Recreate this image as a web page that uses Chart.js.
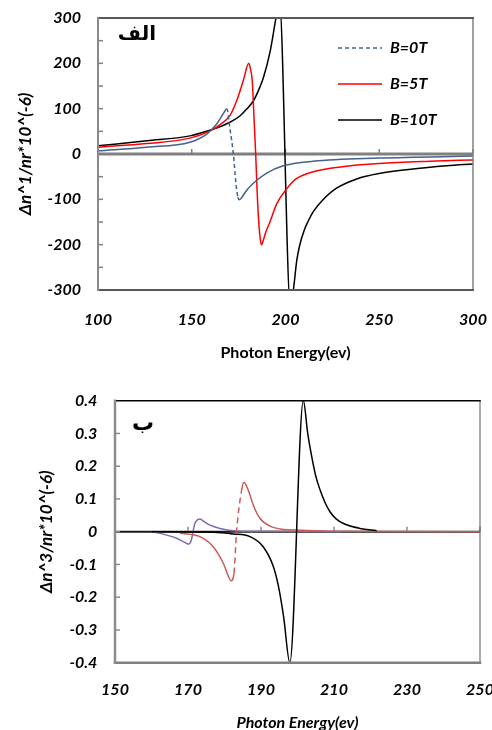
<!DOCTYPE html>
<html>
<head>
<meta charset="utf-8">
<script src="https://cdn.jsdelivr.net/npm/chart.js@4.4.1/dist/chart.umd.min.js"></script>
<style>
  html, body { margin: 0; padding: 0; background: #fff; overflow: hidden; }
  body { width: 492px; height: 730px; position: relative; }
  canvas { position: absolute; left: 0; }
  #top { top: 0; }
  #bottom { top: 370px; }
</style>
</head>
<body>
<canvas id="top" width="492" height="370"></canvas>
<canvas id="bottom" width="492" height="370"></canvas>
<script>
// panel الف : Δn^1 (x = photon energy, eV)
const topE0 = [100, 126, 149, 158, 163.3, 167, 168.7, 170.4, 172.2, 173.6, 174.6, 175.4, 176.5, 179.3, 184.7, 190, 198.8, 214.8, 250, 300];
const topN0 = [7, 15, 26, 44, 66, 90, 100, 55, 0, -66, -95, -101, -97, -80, -58, -42, -26, -16, -9, -4.5];
const topE5 = [100, 126, 149, 159.8, 165.1, 170.4, 174, 177.5, 180.4, 181.3, 182.3, 183.2, 184.1, 185, 185.9, 186.7, 187.3, 188.2, 189.5, 191.7, 195.3, 200.6, 206, 214.8, 232.6, 250, 277, 300];
const topN5 = [15, 23, 35, 51, 65, 85, 118, 162, 200, 188, 160, 80, 0, -95, -160, -192, -200, -190, -172, -150, -110, -77, -54, -39, -27, -21, -16, -13];
const topE10 = [100, 126, 149, 161.6, 170.4, 176, 179.3, 183, 186.4, 188.2, 191.7, 194.4, 195.5, 196.8, 202.6, 204.2, 206, 207.7, 210, 212, 215, 220, 227, 238, 250, 268, 286, 300];
const topN10 = [18, 29, 40, 55, 70, 85, 99, 118, 148, 168, 224, 288, 315, 335, -335, -300, -235, -199, -168, -149, -126, -101, -76, -55, -43, -33, -26, -22];

// panel ب : Δn^3
const botE0 = [160, 162.3, 166.9, 169, 170.1, 170.8, 171.9, 173.3, 174.5, 176, 178.8, 182.4, 190, 212];
const botN0 = [0, -0.005, -0.02, -0.032, -0.038, -0.03, 0.026, 0.039, 0.03, 0.02, 0.01, 0.003, 0.001, 0];
const botE5 = [167.8, 173.3, 176.9, 179.7, 181.1, 181.8, 182.6, 183.3, 184.7, 185.3, 186.5, 187.9, 189.7, 192.5, 196.1, 199.8, 210, 250];
const botN5 = [-0.005, -0.015, -0.046, -0.097, -0.137, -0.15, -0.127, 0, 0.127, 0.151, 0.127, 0.081, 0.041, 0.017, 0.007, 0.005, 0.001, 0];
const botE10 = [160, 177, 182.4, 187, 190.6, 193.4, 194.8, 196.2, 197.9, 201.6, 202.8, 203.9, 205, 206.2, 207.5, 208.9, 210.5, 212.6, 217.1, 221.7];
const botN10 = [0, -0.002, -0.007, -0.015, -0.046, -0.107, -0.168, -0.26, -0.4, 0.4, 0.3, 0.229, 0.17, 0.127, 0.09, 0.061, 0.04, 0.025, 0.01, 0.003];

const seriesNames = ['B=0T', 'B=5T', 'B=10T'];

const TICK_FONT = { family: 'Lato', size: 16, weight: 'bold', style: 'italic' };

function pts(xs, ys) {
  return xs.map((x, i) => ({ x, y: ys[i] }));
}

// Excel restarts the dash on every segment, so only long steep runs look dashed
function steepDash(dash) {
  return (ctx) => {
    const dy = Math.abs(ctx.p1.y - ctx.p0.y);
    const dx = Math.abs(ctx.p1.x - ctx.p0.x);
    return dy > 12 && dy > 3 * dx ? dash : undefined;
  };
}

function series(label, xs, ys, color, extra = {}) {
  return {
    label,
    data: pts(xs, ys),
    borderColor: color,
    backgroundColor: color,
    borderWidth: 1.5,
    pointRadius: 0,
    cubicInterpolationMode: 'monotone',
    fill: false,
    ...extra,
  };
}

function line(ctx, x1, y1, x2, y2) {
  ctx.beginPath();
  ctx.moveTo(x1, y1);
  ctx.lineTo(x2, y2);
  ctx.stroke();
}

const panelDecor = {
  id: 'panelDecor',
  beforeDatasetsDraw(chart, args, opts) {
    const { ctx, chartArea: a, scales: { x, y } } = chart;
    const y0 = y.getPixelForValue(0);
    ctx.save();
    ctx.strokeStyle = opts.zeroColor;
    ctx.lineWidth = opts.zeroWidth;
    line(ctx, a.left, y0, a.right, y0);
    ctx.strokeStyle = opts.tickColor;
    ctx.lineWidth = 1.5;
    x.ticks.forEach((t) => {
      const px = x.getPixelForValue(t.value);
      if (px > a.left + 2) line(ctx, px, y0, px, y0 - 5);
    });
    const n = Math.round((y.max - y.min) / opts.minorStep);
    for (let i = 1; i < n; i += 1) {
      const py = y.getPixelForValue(y.min + i * opts.minorStep);
      line(ctx, a.left, py, a.left + 5, py);
    }
    ctx.restore();
  },
  afterDatasetsDraw(chart, args, opts) {
    const { ctx, chartArea: a } = chart;
    const f = opts.frame;
    ctx.save();
    ctx.lineCap = 'square';
    ctx.strokeStyle = f.right[0]; ctx.lineWidth = f.right[1];
    line(ctx, a.right, a.top, a.right, a.bottom);
    ctx.strokeStyle = f.top[0]; ctx.lineWidth = f.top[1];
    line(ctx, a.left, a.top, a.right, a.top);
    ctx.strokeStyle = f.bottom[0]; ctx.lineWidth = f.bottom[1];
    line(ctx, a.left, a.bottom, a.right, a.bottom);
    ctx.strokeStyle = f.left[0]; ctx.lineWidth = f.left[1];
    line(ctx, a.left, a.top, a.left, a.bottom);
    ctx.restore();
  },
  afterDraw(chart, args, opts) {
    const { ctx } = chart;
    const lg = opts.legend;
    ctx.save();
    chart.data.datasets.forEach((ds, i) => {
      const yy = lg.y + i * lg.gap;
      ctx.strokeStyle = ds.borderColor;
      ctx.lineWidth = 1.5;
      ctx.setLineDash(ds.legendDash || []);
      line(ctx, lg.x1, yy, lg.x2, yy);
      ctx.setLineDash([]);
      ctx.fillStyle = '#000';
      ctx.font = 'italic bold 16px Lato';
      ctx.textAlign = 'left';
      ctx.textBaseline = 'middle';
      ctx.fillText(ds.label, lg.textX, yy);
    });
    ctx.font = opts.tag.font;
    ctx.fillStyle = '#000';
    ctx.direction = 'rtl';
    ctx.textAlign = 'right';
    ctx.textBaseline = 'middle';
    ctx.fillText(opts.tag.text, opts.tag.x, opts.tag.y);
    ctx.restore();
  },
};

function panel(canvasId, cfg) {
  return new Chart(document.getElementById(canvasId), {
    type: 'line',
    data: { datasets: cfg.datasets },
    plugins: [panelDecor],
    options: {
      responsive: false,
      animation: false,
      devicePixelRatio: 1,
      layout: { padding: cfg.padding },
      plugins: {
        legend: { display: false },
        tooltip: { enabled: false },
        panelDecor: cfg.decor,
      },
      scales: {
        x: {
          type: 'linear',
          min: cfg.xMin,
          max: cfg.xMax,
          grid: { display: false, drawTicks: false },
          border: { display: false },
          ticks: { stepSize: cfg.xStep, color: '#000', font: TICK_FONT, padding: cfg.xTickPad, maxRotation: 0 },
          title: { display: true, text: 'Photon Energy(ev)', color: '#000', font: cfg.xTitleFont, padding: { top: 0, bottom: cfg.xTitlePad } },
          afterFit(s) { s.height = cfg.xHeight; s.paddingLeft = 0; s.paddingRight = 0; },
        },
        y: {
          type: 'linear',
          min: cfg.yMin,
          max: cfg.yMax,
          grid: { display: false, drawTicks: false },
          border: { display: false },
          ticks: { stepSize: cfg.yStep, color: '#000', font: TICK_FONT, padding: cfg.yTickPad },
          title: { display: true, text: cfg.yTitle, color: '#000', font: { family: 'Lato', size: 17, weight: 'bold', style: 'italic' }, padding: { top: cfg.yTitlePad, bottom: 0 } },
          afterFit(s) { s.width = cfg.yWidth; s.paddingTop = 0; s.paddingBottom = 0; },
        },
      },
    },
  });
}

const blueGray = '#44618C';

panel('top', {
  datasets: [
    series(seriesNames[0], topE0, topN0, blueGray, { segment: { borderDash: steepDash([4, 3]) }, legendDash: [4, 3] }),
    series(seriesNames[1], topE5, topN5, '#FF0000'),
    series(seriesNames[2], topE10, topN10, '#000000'),
  ],
  padding: { top: 18, right: 19, bottom: 0, left: 0 },
  xMin: 100, xMax: 300, xStep: 50, xTickPad: 20, xHeight: 80, xTitlePad: 8,
  xTitleFont: { family: 'Lato', size: 16, weight: 'bold' },
  yMin: -300, yMax: 300, yStep: 100, yTickPad: 17, yWidth: 98, yTitlePad: 15,
  yTitle: 'Δn^1/nr*10^(-6)',
  decor: {
    zeroColor: '#808080', zeroWidth: 3, tickColor: '#808080', minorStep: 50,
    frame: { top: ['#595959', 2], bottom: ['#595959', 2], left: ['#8A8A8A', 2], right: ['#808080', 1.5] },
    legend: { x1: 338, x2: 382, textX: 390, y: 48, gap: 36 },
    tag: { text: 'الف', font: 'bold 20px "DejaVu Sans"', x: 156, y: 35 },
  },
});

panel('bottom', {
  datasets: [
    series(seriesNames[0], botE0, botN0, '#8468B0', { order: 3, legendDash: [2, 2] }),
    series(seriesNames[1], botE5, botN5, '#CC5B58', { order: 2, segment: { borderDash: steepDash([6, 4]) }, legendDash: [6, 4] }),
    series(seriesNames[2], botE10, botN10, '#000000', { order: 1 }),
  ],
  padding: { top: 30.7, right: 12, bottom: 0, left: 0 },
  xMin: 150, xMax: 250, xStep: 20, xTickPad: 18, xHeight: 77.3, xTitlePad: 8,
  xTitleFont: { family: 'Lato', size: 16, weight: 'bold', style: 'italic' },
  yMin: -0.4, yMax: 0.4, yStep: 0.1, yTickPad: 17.7, yWidth: 115, yTitlePad: 36,
  yTitle: 'Δn^3/nr*10^(-6)',
  decor: {
    zeroColor: '#1A1A1A', zeroWidth: 2, tickColor: '#8A8A8A', minorStep: 0.1,
    frame: { top: ['#000000', 1.5], bottom: ['#808080', 2.5], left: ['#8C8C8C', 2.5], right: ['#595959', 1] },
    legend: { x1: 373, x2: 417, textX: 422, y: 426, gap: 31 },
    tag: { text: 'ب', font: 'bold 22px "DejaVu Sans"', x: 154, y: 424 - 370 },
  },
});
</script>
</body>
</html>
